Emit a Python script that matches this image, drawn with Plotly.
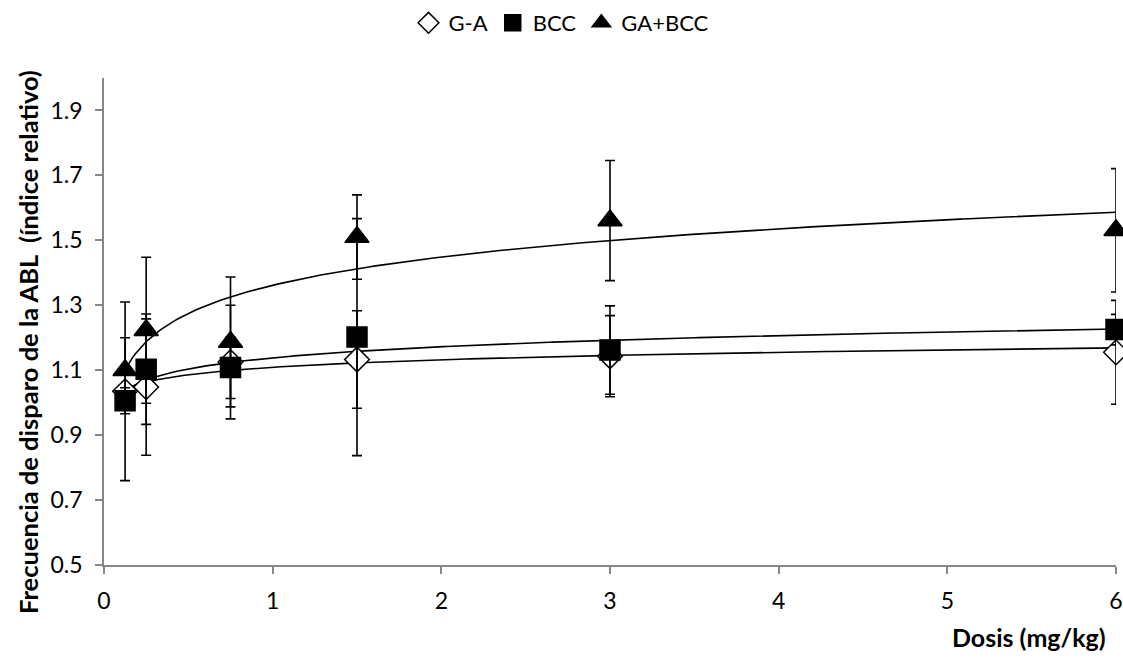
import numpy as np
import plotly.graph_objects as go

dose = [0.125, 0.25, 0.75, 1.5, 3, 6]
ga = [1.035, 1.048, 1.125, 1.133, 1.143, 1.155]
ga_err = [0.275, 0.21, 0.175, 0.15, 0.125, 0.16]
bcc = [1.006, 1.103, 1.108, 1.202, 1.162, 1.225]
bcc_err = [0.04, 0.17, 0.095, 0.365, 0.136, 0.047]
gabcc = [1.10, 1.223, 1.187, 1.51, 1.561, 1.531]
gabcc_err = [0.1, 0.225, 0.2, 0.13, 0.185, 0.19]

names = ["G-A", "BCC", "GA+BCC"]
symbols = ["diamond", "square", "triangle-up"]
sizes = [19, 20, 21]
fills = ["white", "black", "black"]
series = [ga, bcc, gabcc]
errs = [ga_err, bcc_err, gabcc_err]

FONT = "Lato"
fig = go.Figure()

# logarithmic trendlines (least squares on ln x, as Excel does)
xs = np.linspace(min(dose), max(dose), 300)
for ys in series:
    a, b = np.polyfit(np.log(dose), ys, 1)
    fig.add_trace(go.Scatter(x=xs, y=a * np.log(xs) + b, mode="lines",
                             line=dict(color="black", width=1.6),
                             showlegend=False, hoverinfo="skip", cliponaxis=False))

for name, sym, sz, fc, ys in zip(names, symbols, sizes, fills, series):
    fig.add_trace(go.Scatter(x=dose, y=ys, mode="markers", name=name, cliponaxis=False,
                             marker=dict(symbol=sym, size=sz, color=fc,
                                         line=dict(color="black", width=1.5))))

for ys, e in zip(series, errs):
    fig.add_trace(go.Scatter(x=dose, y=ys, mode="markers", showlegend=False,
                             cliponaxis=False,
                             marker=dict(size=1, color="rgba(0,0,0,0)"),
                             error_y=dict(type="data", array=e, visible=True,
                                          color="black", thickness=1.6, width=5),
                             hoverinfo="skip"))

axis_common = dict(showgrid=False, zeroline=False, showline=True,
                   linecolor="#868686", linewidth=1.5, ticks="outside",
                   ticklen=7, tickwidth=1.5, tickcolor="#868686",
                   tickfont=dict(family=FONT, size=23, color="black"))

fig.update_xaxes(range=[0, 6], dtick=1, tick0=0, ticklabelstandoff=8,
                 **axis_common)
fig.update_yaxes(range=[0.5, 2.0], dtick=0.2, tick0=0.5, tickformat=".1f",
                 ticklabelstandoff=8, **axis_common)

fig.add_annotation(text="<b>Frecuencia de disparo de la ABL  (índice relativo)</b>",
                   xref="paper", yref="paper", x=-0.0751, y=0.458,
                   xanchor="center", yanchor="middle", textangle=-90, showarrow=False,
                   font=dict(family=FONT, size=25.5, color="black"))

fig.add_annotation(text="<b>Dosis (mg/kg)</b>", xref="paper", yref="paper",
                   x=0.992, y=-0.113, xanchor="right", yanchor="top", showarrow=False,
                   font=dict(family=FONT, size=25, color="black"))

fig.update_layout(
    width=1123, height=662,
    margin=dict(l=104, r=7, t=78, b=97, autoexpand=False),
    plot_bgcolor="white", paper_bgcolor="white",
    legend=dict(orientation="h", xref="container", yref="container",
                x=0.5, xanchor="center", y=0.997, yanchor="top",
                font=dict(family=FONT, size=22, color="black"),
                itemwidth=30, tracegroupgap=0),
)

fig.write_html("out.html")
